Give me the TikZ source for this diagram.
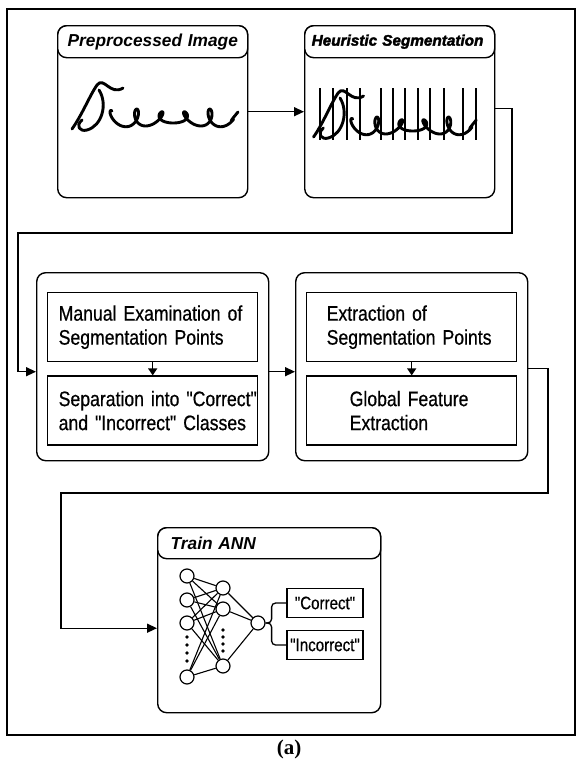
\documentclass[tikz,border=0pt]{standalone}
\usepackage{fontspec}
\setmainfont{Liberation Sans}
\newfontfamily\narrowfont[FakeStretch=0.84, FakeBold=0.6]{Liberation Sans}
\newfontfamily\heavyfont[BoldItalicFeatures={FakeBold=2.2}]{Liberation Sans}
\newfontfamily\captionfont{Liberation Serif}
\usetikzlibrary{positioning}
\usetikzlibrary{calc}
\usetikzlibrary{arrows.meta}

\tikzset{
    panel/.style={draw, line width=1.4pt, rounded corners=9pt, anchor=north west, inner sep=0pt},
    header/.style={draw, fill=white, line width=1.4pt, rounded corners=9pt, anchor=north west,
        align=left, inner xsep=10pt, minimum height=32pt, font=\fontsize{17.3}{20}\selectfont\bfseries\itshape},
    stepbox/.style={draw, line width=1.4pt, minimum width=210pt, minimum height=69pt, inner sep=0pt,
        align=left, font=\narrowfont\fontsize{21}{24}\selectfont},
    classbox/.style={draw, line width=1.3pt, minimum width=76pt, minimum height=29pt, inner sep=0pt,
        font=\narrowfont\fontsize{18}{20}\selectfont},
    neuron/.style={draw, circle, line width=1.2pt, minimum size=14pt, inner sep=0pt, fill=white},
    flow/.style={line width=1.4pt, -{Triangle[length=10pt,width=9pt]}},
    ink/.style={line width=2.9pt, line cap=round, line join=round},
}

% handwritten word
\newcommand{\handword}{%
    \draw[ink] (72,129) .. controls (82,115) and (90,95) .. (97,85);
    \draw[ink] (97,85) .. controls (104,76) and (110,96) .. (123,88);
    \draw[ink] (99,90) .. controls (108,104) and (102,126) .. (87,130) .. controls (80,132) and (75,126) .. (82,120);
    \draw[ink] plot[domain=0:29.5, samples=240, smooth, variable=\t]
        ({112 + 3.9*\t - 7*sin(\t r)}, {118 - 7*cos(\t r) - 2*sin(1.3*\t r)})
        .. controls (228,124) and (233,118) .. (238,112);
}

\begin{document}
\begin{tikzpicture}[x=1pt, y=-1pt]
    \useasboundingbox (0,0) rectangle (578,761);
    \draw[line width=1.4pt] (7,9) rectangle (575,735);

    % first row
    \node[panel, minimum width=190pt, minimum height=172pt] (prep) at (57,25) {};
    \node[header, text width=170pt] (prep_head) at (prep.north west) {\mbox{Preprocessed Image}};
    \handword

    \node[panel, minimum width=190pt, minimum height=172pt] (heur) at (304,25) {};
    \node[header, text width=176pt, inner xsep=7pt, font=\heavyfont\fontsize{15.3}{18}\selectfont\bfseries\itshape] (heur_head) at (heur.north west) {\mbox{Heuristic Segmentation}};
    \begin{scope}[shift={(243,8)}, xscale=0.98]
        \handword
    \end{scope}
    \foreach \x in {320,333,347,360,381,393,405,418,430,444,463,476}
        \draw[line width=2pt] (\x,88) -- (\x,140);

    \draw[flow] (prep.east) -- (heur.west);

    % second row
    \node[panel, minimum width=232pt, minimum height=188pt] (stage1) at (36,272) {};
    \node[stepbox, text width=188pt, anchor=north] (manual) at ([yshift=-20pt]stage1.north) {\mbox{Manual Examination of}\\\mbox{Segmentation Points}};
    \node[stepbox, text width=188pt, below=13pt of manual] (separate) {\mbox{Separation into "Correct"}\\\mbox{and "Incorrect" Classes}};
    \draw[flow, -{Triangle[length=7pt,width=9pt]}] (manual) -- (separate);

    \node[panel, minimum width=232pt, minimum height=188pt] (stage2) at (295,272) {};
    \node[stepbox, text width=170pt, anchor=north] (extract) at ([yshift=-20pt]stage2.north) {\mbox{Extraction of}\\\mbox{Segmentation Points}};
    \node[stepbox, text width=124pt, below=13pt of extract] (global) {\mbox{Global Feature}\\\mbox{Extraction}};
    \draw[flow, -{Triangle[length=7pt,width=9pt]}] (extract) -- (global);

    \draw[flow] ([yshift=-5pt]stage1.east) -- ([yshift=-5pt]stage2.west);

    \coordinate (turn_1) at (512,233);
    \coordinate (turn_2) at (18,233);
    \draw[flow] ([yshift=3pt]heur.east) -| (turn_1) -- (turn_2) |- ([yshift=-5pt]stage1.west);

    % third row
    \node[panel, minimum width=223pt, minimum height=185pt] (train) at (157,527) {};
    \node[header, text width=197pt, inner xsep=13pt, minimum height=31pt] (train_head) at (train.north west) {Train ANN};

    \coordinate (turn_3) at (548,493);
    \coordinate (turn_4) at (61,493);
    \draw[flow] ([yshift=-2pt]stage2.east) -| (turn_3) -- (turn_4) |- ([yshift=-8pt]train.west);

    % network
    \node[neuron] (in_1) at (187,576) {};
    \node[neuron] (in_2) at (187,600) {};
    \node[neuron] (in_3) at (187,623) {};
    \node[neuron] (in_n) at (187,677) {};
    \node[neuron] (hid_1) at (223,588) {};
    \node[neuron] (hid_2) at (223,609) {};
    \node[neuron] (hid_n) at (223,666) {};
    \node[neuron] (out) at (258,623) {};

    \foreach \a in {in_1,in_2,in_3,in_n}
        \foreach \b in {hid_1,hid_2,hid_n}
            \draw[line width=1.1pt] (\a) -- (\b);
    \foreach \b in {hid_1,hid_2,hid_n}
        \draw[line width=1.1pt] (\b) -- (out);
    \foreach \y in {637,645,653,661}
        \fill (187,\y) circle (1.8);
    \foreach \y in {630,637,644,651}
        \fill (223,\y) circle (1.8);

    \node[classbox] (correct) at (325,603) {"Correct"};
    \node[classbox] (incorrect) at (325,645) {"Incorrect"};
    \draw[line width=1.3pt, rounded corners=4pt] (out.east) -- ([xshift=6pt]out.east) |- (correct.west);
    \draw[line width=1.3pt, rounded corners=4pt] (out.east) -- ([xshift=6pt]out.east) |- (incorrect.west);

    \node[font=\captionfont\fontsize{21}{24}\selectfont\bfseries] (caption) at (289,749) {(a)};
\end{tikzpicture}
\end{document}
